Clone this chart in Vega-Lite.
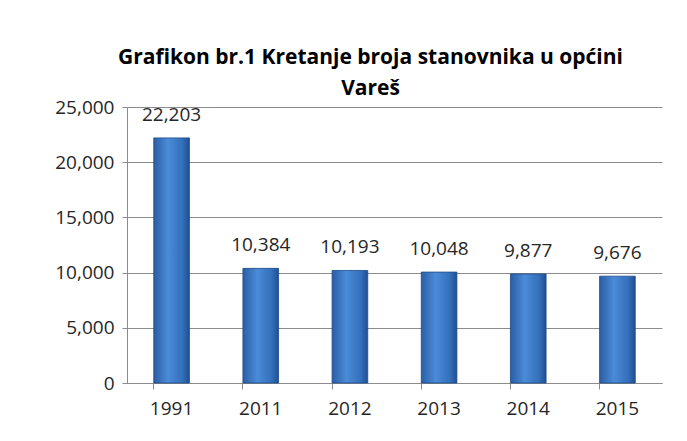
{
  "$schema": "https://vega.github.io/schema/vega-lite/v6.json",
  "width": 535,
  "height": 276,
  "autosize": "none",
  "padding": {"left": 127, "top": 107, "right": 25, "bottom": 58},
  "background": "white",
  "title": {
    "text": ["Grafikon br.1 Kretanje broja stanovnika u općini", "Vareš"],
    "font": "Open Sans",
    "fontSize": 21,
    "fontWeight": "bold",
    "color": "#000000",
    "lineHeight": 31,
    "offset": 2,
    "dy": 3,
    "dx": -24,
    "anchor": "middle"
  },
  "data": {
    "values": [
      {"year": "1991", "pop": 22203},
      {"year": "2011", "pop": 10384},
      {"year": "2012", "pop": 10193},
      {"year": "2013", "pop": 10048},
      {"year": "2014", "pop": 9877},
      {"year": "2015", "pop": 9676}
    ]
  },
  "config": {
    "view": {"stroke": null},
    "axis": {
      "labelFont": "Open Sans",
      "labelFontSize": 19,
      "labelColor": "#262626",
      "domainColor": "#8c8c8c",
      "tickColor": "#8c8c8c",
      "gridColor": "#8c8c8c",
      "titleFont": "Open Sans"
    }
  },
  "encoding": {
    "x": {
      "field": "year",
      "type": "ordinal",
      "scale": {"paddingInner": 0.6, "paddingOuter": 0.3},
      "axis": {"title": null, "labelAngle": 0, "bandPosition": 0, "tickSize": 6, "labelPadding": 10, "grid": false}
    },
    "y": {
      "field": "pop",
      "type": "quantitative",
      "scale": {"domain": [0, 25000]},
      "axis": {"title": null, "values": [0, 5000, 10000, 15000, 20000, 25000], "format": ",d", "tickSize": 5, "labelPadding": 8, "grid": true, "gridWidth": 1}
    }
  },
  "layer": [
    {
      "mark": {
        "type": "bar",
        "stroke": "#1d4a86",
        "strokeWidth": 0.8,
        "color": {
          "gradient": "linear",
          "x1": 0, "x2": 1, "y1": 0, "y2": 0,
          "stops": [
            {"offset": 0, "color": "#2a5ea6"},
            {"offset": 0.4, "color": "#4b8bd8"},
            {"offset": 0.8, "color": "#3470bb"},
            {"offset": 1, "color": "#1f4f92"}
          ]
        }
      }
    },
    {
      "mark": {"type": "text", "baseline": "bottom", "dy": -13, "font": "Open Sans", "fontSize": 19, "color": "#262626"},
      "encoding": {"text": {"field": "pop", "type": "quantitative", "format": ",d"}}
    }
  ]
}
